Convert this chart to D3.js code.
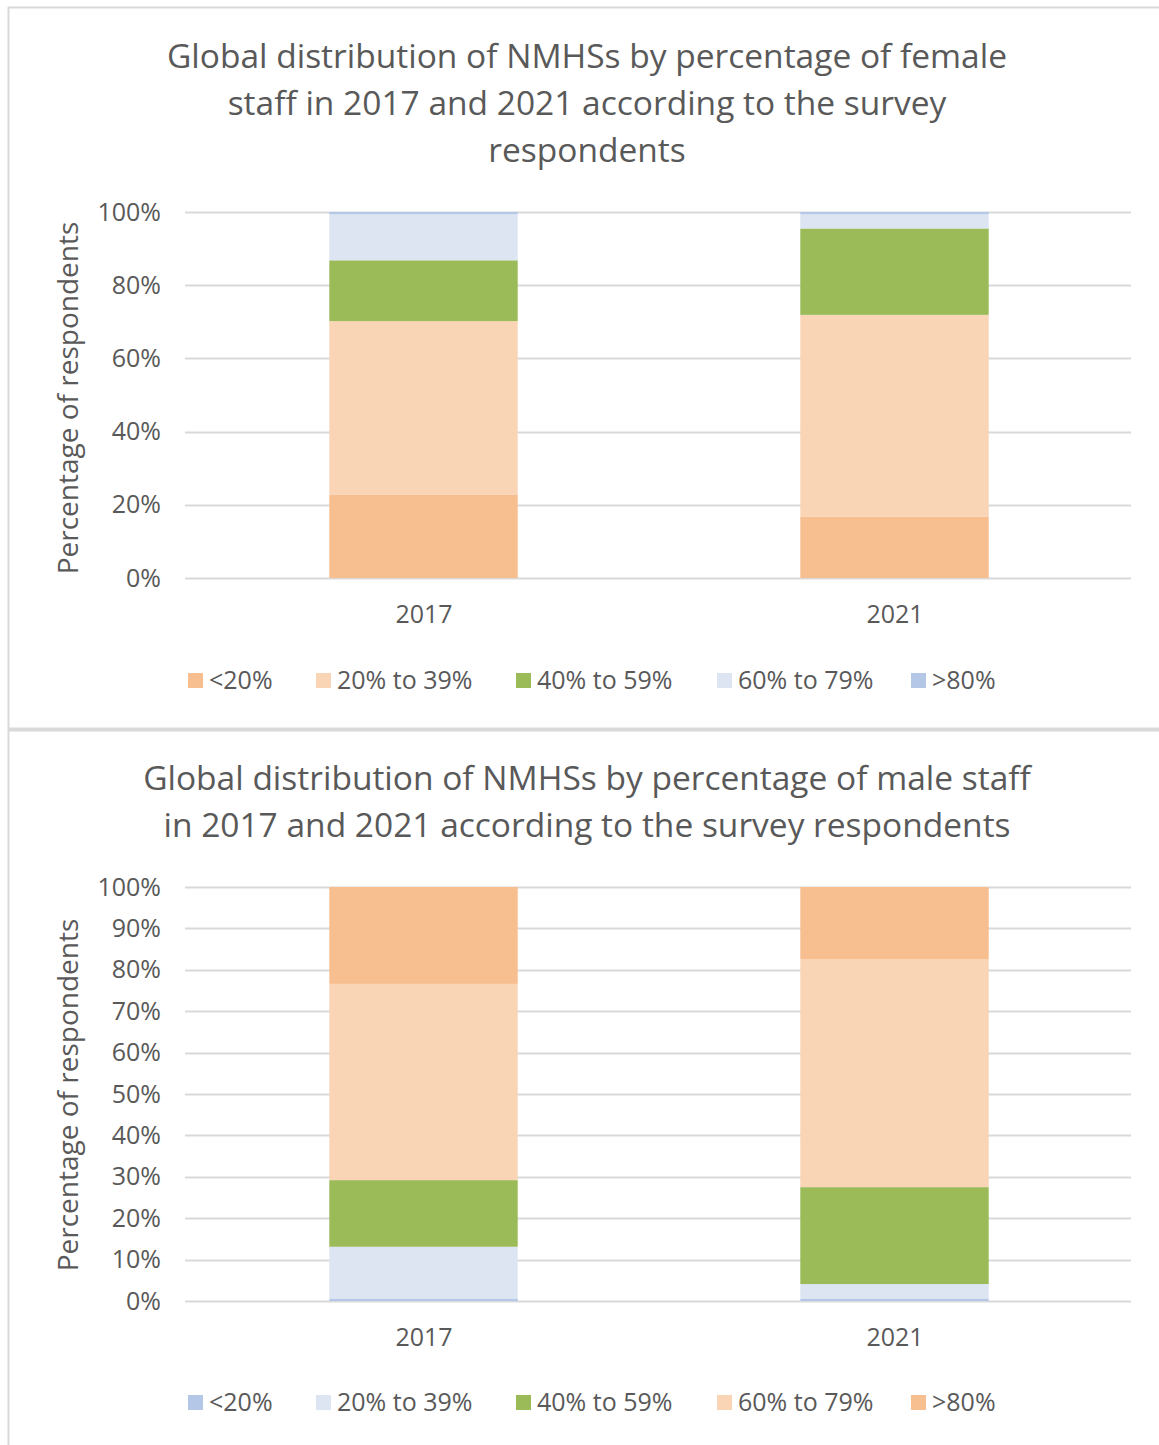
<!DOCTYPE html>
<html>
<head>
<meta charset="utf-8">
<script src="https://cdn.jsdelivr.net/npm/d3@7"></script>
<style>
  html, body { margin: 0; padding: 0; background: #fff; }
  svg { display: block; }
  text { font-family: "Open Sans", "Noto Sans", sans-serif; fill: #595959; }
</style>
</head>
<body>
<svg id="chart" width="1159" height="1445"></svg>
<script>
// Survey years shown on the x axis
const years = ["2017", "2021"];

// Female staff share bands (stack order: bottom to top)
const femaleBands = ["<20%", "20% to 39%", "40% to 59%", "60% to 79%", ">80%"];
const female2017 = [22.7, 47.5, 16.6, 12.6, 0.6];
const female2021 = [16.7, 55.2, 23.6, 3.9, 0.6];

// Male staff share bands (stack order: bottom to top)
const maleBands = ["<20%", "20% to 39%", "40% to 59%", "60% to 79%", ">80%"];
const male2017 = [0.6, 12.5, 16.1, 47.4, 23.4];
const male2021 = [0.6, 3.5, 23.4, 55.1, 17.4];

// Tick values for each chart's percentage axis
const femaleTicks = [0, 20, 40, 60, 80, 100];
const maleTicks = [0, 10, 20, 30, 40, 50, 60, 70, 80, 90, 100];

const femaleColors = ["#F7BE8F", "#F9D4B5", "#9BBB59", "#DCE5F1", "#B4C7E7"];
const maleColors = ["#B4C7E7", "#DCE5F1", "#9BBB59", "#F9D4B5", "#F7BE8F"];

const femaleTitle = ["Global distribution of NMHSs by percentage of female",
                     "staff in 2017 and 2021 according to the survey",
                     "respondents"];
const maleTitle = ["Global distribution of NMHSs by percentage of male staff",
                   "in 2017 and 2021 according to the survey respondents"];

const svg = d3.select("#chart");

// Panel frame lines
svg.append("line").attr("x1", 8).attr("x2", 1159).attr("y1", 7.5).attr("y2", 7.5)
  .attr("stroke", "#D9D9D9").attr("stroke-width", 2);
svg.append("line").attr("x1", 8.5).attr("x2", 8.5).attr("y1", 7).attr("y2", 1445)
  .attr("stroke", "#D9D9D9").attr("stroke-width", 2);
svg.append("line").attr("x1", 8).attr("x2", 1159).attr("y1", 729.5).attr("y2", 729.5)
  .attr("stroke", "#D9D9D9").attr("stroke-width", 4);

function drawChart(cfg) {
  const g = svg.append("g");
  const x = d3.scalePoint().domain(years).range([188, 1130]).padding(0.5);
  const barW = x.step() * 0.4;
  const y = d3.scaleLinear().domain([0, 100]).range([cfg.y0, cfg.y100]);

  // Title
  g.append("text")
    .attr("text-anchor", "middle")
    .attr("font-size", 33.5)
    .selectAll("tspan").data(cfg.title).join("tspan")
    .attr("x", 587)
    .attr("y", (d, i) => cfg.titleY + i * 47)
    .text(d => d);

  // Gridlines
  g.append("g").selectAll("line").data(cfg.ticks).join("line")
    .attr("x1", 185).attr("x2", 1131)
    .attr("y1", d => Math.round(y(d)) + 0.5).attr("y2", d => Math.round(y(d)) + 0.5)
    .attr("stroke", "#D9D9D9").attr("stroke-width", 2);

  // Y axis labels
  const yAxis = d3.axisLeft(y).tickValues(cfg.ticks).tickFormat(d => d + "%").tickSize(0).tickPadding(0);
  const ya = g.append("g").attr("transform", "translate(161,0)").call(yAxis);
  ya.select(".domain").remove();
  ya.selectAll("text").attr("font-size", 25).attr("fill", "#595959")
    .style("font-family", "\"Open Sans\", sans-serif");

  // Stacked bars
  const rows = years.map((yr, i) => {
    const r = { year: yr };
    cfg.bands.forEach((b, j) => { r[b] = cfg.values[i][j]; });
    return r;
  });
  const series = d3.stack().keys(cfg.bands)(rows);
  g.append("g").selectAll("g").data(series).join("g")
    .attr("fill", (d, i) => cfg.colors[i])
    .selectAll("rect").data(d => d).join("rect")
    .attr("x", d => x(d.data.year) - barW / 2)
    .attr("width", barW)
    .attr("y", d => y(d[1]))
    .attr("height", d => y(d[0]) - y(d[1]));

  // X axis labels
  const xAxis = d3.axisBottom(x).tickSize(0).tickPadding(0);
  const xa = g.append("g").attr("transform", `translate(0,${cfg.xLabelY})`).call(xAxis);
  xa.select(".domain").remove();
  xa.selectAll("text").attr("font-size", 25).attr("fill", "#595959")
    .style("font-family", "\"Open Sans\", sans-serif");

  // Y axis title
  g.append("text")
    .attr("transform", `translate(78,${cfg.axisTitleY}) rotate(-90)`)
    .attr("text-anchor", "middle")
    .attr("font-size", 28)
    .text("Percentage of respondents");

  // Legend
  const legendX = [188, 316, 516, 717, 911];
  const lg = g.append("g").selectAll("g").data(cfg.bands).join("g")
    .attr("transform", (d, i) => `translate(${legendX[i]},${cfg.legendY})`);
  lg.append("rect").attr("x", 0).attr("y", -7).attr("width", 15).attr("height", 15)
    .attr("fill", (d, i) => cfg.colors[i]);
  lg.append("text").attr("x", 21).attr("y", 0).attr("dy", "0.35em")
    .attr("font-size", 25).text(d => d);
}

drawChart({
  title: femaleTitle, titleY: 68,
  y0: 578, y100: 212, ticks: femaleTicks,
  bands: femaleBands, colors: femaleColors,
  values: [female2017, female2021],
  xLabelY: 605, axisTitleY: 398, legendY: 680
});

drawChart({
  title: maleTitle, titleY: 790,
  y0: 1301, y100: 887, ticks: maleTicks,
  bands: maleBands, colors: maleColors,
  values: [male2017, male2021],
  xLabelY: 1328, axisTitleY: 1095, legendY: 1402
});
</script>
</body>
</html>
